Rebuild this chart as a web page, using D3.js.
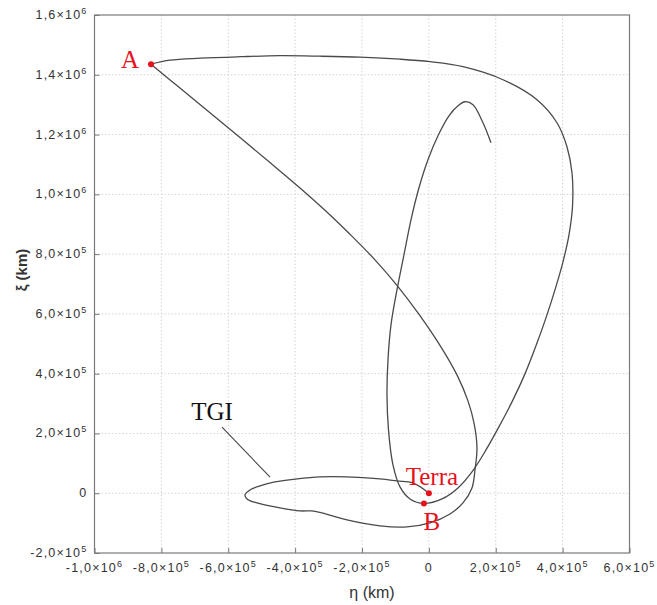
<!DOCTYPE html>
<html>
<head>
<meta charset="utf-8">
<script src="https://cdn.jsdelivr.net/npm/d3@7"></script>
<style>
  body { margin: 0; background: #fff; }
  svg { display: block; }
</style>
</head>
<body>
<div id="chart"></div>
<script>
// Trajectory in the rotating frame: eta (km) vs xi (km)

// Axis ticks
const etaTicks = [-1.0e6, -8.0e5, -6.0e5, -4.0e5, -2.0e5, 0, 2.0e5, 4.0e5, 6.0e5];
const xiTicks = [-2.0e5, 0, 2.0e5, 4.0e5, 6.0e5, 8.0e5, 1.0e6, 1.2e6, 1.4e6, 1.6e6];

// Path, in time order [eta, xi] (km)
// Leg 1: leaves Terra, TGI loop, then climbs to A
const outboundLeg = [
  [0, 0], [-47500, 34500], [-95400, 41200], [-146200, 47900], [-245000, 54600],
  [-325700, 54600], [-394500, 47900], [-460300, 37800], [-505100, 24400],
  [-535000, 11000], [-550000, -5700], [-544000, -19100], [-514100, -32500],
  [-445300, -49200], [-385500, -59200], [-349600, -59200], [-325700, -64300],
  [-244900, -89400], [-146200, -109500], [-65500, -112800], [3300, -99400],
  [63100, -69300], [102000, -32500], [128900, 17700], [137900, 78000],
  [143900, 151600], [134900, 235300], [116900, 309000], [84000, 396000],
  [33200, 494700], [-32600, 603500], [-95400, 695600], [-161200, 780900],
  [-236000, 866300], [-310700, 946600], [-385500, 1021300], [-475200, 1106300],
  [-564900, 1190000], [-654700, 1273000], [-744400, 1355700], [-831100, 1435300]
];
// Leg 2: from A along the top, outer arc down past B, inner loop up to the end
const returnLeg = [
  [-831100, 1435300], [-774300, 1448700], [-684600, 1455400], [-564900, 1460400],
  [-445300, 1463800], [-325700, 1462100], [-206100, 1458800], [-86400, 1452100],
  [3300, 1443700], [102000, 1426900], [221600, 1383400], [323300, 1316500],
  [383100, 1239500], [413000, 1159200], [428000, 1072100], [429500, 958300],
  [419000, 864600], [401100, 774200], [377100, 680500], [350200, 586800],
  [320300, 493100], [287400, 399300], [251500, 312300], [212600, 228600],
  [170800, 144900], [128900, 71300], [87000, 17700], [39200, -19100],
  [-14700, -34100], [-56500, -19100], [-86400, 21100], [-107400, 94700],
  [-120800, 211900], [-125300, 329000], [-122300, 446200], [-113300, 563400],
  [-95400, 680500], [-74500, 797700], [-53500, 914800], [-29600, 1021900],
  [-2700, 1115700], [27200, 1196000], [60100, 1262900], [87000, 1296400],
  [108000, 1309800], [131900, 1299800], [161800, 1239500], [185700, 1172600]
];

// Marked points
const markerNames = ["A", "Terra", "B"];
const markerEta = [-831100, 0, -14700];
const markerXi = [1435300, 0, -34100];

const W = 657, H = 605;
const margin = { top: 15, right: 27.5, bottom: 52, left: 94.5 };
const width = W - margin.left - margin.right;
const height = H - margin.top - margin.bottom;

const svg = d3.select("#chart").append("svg")
  .attr("width", W).attr("height", H);

const g = svg.append("g")
  .attr("transform", `translate(${margin.left},${margin.top})`);

const x = d3.scaleLinear().domain([-1.0e6, 6.0e5]).range([0, width]);
const y = d3.scaleLinear().domain([-2.0e5, 1.6e6]).range([height, 0]);

// Tick label "m,m×10^e"
function sciLabel(sel, v) {
  if (v === 0) { sel.text("0"); return; }
  const e = Math.floor(Math.log10(Math.abs(v)) + 1e-9);
  const m = (v / Math.pow(10, e)).toFixed(1).replace(".", ",");
  sel.append("tspan").text(m + "×10");
  sel.append("tspan").attr("dy", -5).style("font-size", "9px").text(e);
}

// Grid (dotted)
g.append("g").selectAll("line")
  .data(etaTicks.slice(1, -1)).join("line")
  .attr("x1", d => x(d)).attr("x2", d => x(d))
  .attr("y1", 0).attr("y2", height)
  .attr("stroke", "#d4d4d4").attr("stroke-dasharray", "1.5,2");
g.append("g").selectAll("line")
  .data(xiTicks.slice(1, -1)).join("line")
  .attr("x1", 0).attr("x2", width)
  .attr("y1", d => y(d)).attr("y2", d => y(d))
  .attr("stroke", "#d4d4d4").attr("stroke-dasharray", "1.5,2");

// Axes with inward ticks
const xAxis = g.append("g")
  .attr("transform", `translate(0,${height})`)
  .call(d3.axisBottom(x).tickValues(etaTicks).tickSizeInner(-5).tickSizeOuter(0).tickFormat(""));
const yAxis = g.append("g")
  .call(d3.axisLeft(y).tickValues(xiTicks).tickSizeInner(-5).tickSizeOuter(0).tickFormat(""));
[xAxis, yAxis].forEach(a => {
  a.select(".domain").remove();
  a.selectAll(".tick line").attr("stroke", "#777");
});

// Frame
g.append("rect")
  .attr("width", width).attr("height", height)
  .attr("fill", "none").attr("stroke", "#7a7a7a").attr("stroke-width", 1.2);

// Tick labels
const tickFont = sel => sel
  .style("font-family", "'Liberation Sans', Arial, sans-serif")
  .style("font-size", "12.5px").style("letter-spacing", "1.2px")
  .attr("fill", "#333");

g.append("g").selectAll("text")
  .data(etaTicks).join("text")
  .attr("x", d => x(d)).attr("y", height + 19)
  .attr("text-anchor", "middle")
  .call(tickFont)
  .each(function (d) { sciLabel(d3.select(this), d); });

g.append("g").selectAll("text")
  .data(xiTicks).join("text")
  .attr("x", -7).attr("y", d => y(d) + 4)
  .attr("text-anchor", "end")
  .call(tickFont)
  .each(function (d) { sciLabel(d3.select(this), d); });

// Axis titles
g.append("text")
  .attr("x", width / 2 + 10).attr("y", height + 45)
  .attr("text-anchor", "middle")
  .style("font-family", "'Liberation Sans', Arial, sans-serif")
  .style("font-size", "16px").attr("fill", "#333")
  .text("η (km)");

g.append("text")
  .attr("transform", "rotate(-90)")
  .attr("x", -255).attr("y", -68)
  .attr("text-anchor", "middle")
  .style("font-family", "'Liberation Sans', Arial, sans-serif")
  .style("font-size", "15px").style("font-weight", "bold").attr("fill", "#333")
  .text("ξ (km)");

// Trajectory (two legs, joined at A)
const line = d3.line()
  .x(d => x(d[0])).y(d => y(d[1]))
  .curve(d3.curveCatmullRom.alpha(0.5));

g.selectAll("path.leg")
  .data([outboundLeg, returnLeg])
  .join("path")
  .attr("class", "leg")
  .attr("d", line)
  .attr("fill", "none")
  .attr("stroke", "#4a4a4a")
  .attr("stroke-width", 1.3)
  .attr("stroke-linejoin", "round");

// TGI annotation
const tgiAt = [-475000, 47000];
g.append("line")
  .attr("x1", x(tgiAt[0]) - 48).attr("y1", y(tgiAt[1]) - 52)
  .attr("x2", x(tgiAt[0])).attr("y2", y(tgiAt[1]) - 2)
  .attr("stroke", "#444").attr("stroke-width", 1.1);
g.append("text")
  .attr("x", x(tgiAt[0]) - 58).attr("y", y(tgiAt[1]) - 59)
  .attr("text-anchor", "middle")
  .style("font-family", "'Liberation Serif', serif")
  .style("font-size", "25px").attr("fill", "#111")
  .text("TGI");

// Red markers and labels
const labelOffset = { A: [-21, 4], Terra: [3, -8], B: [8, 27] };
markerNames.forEach((name, i) => {
  const px = x(markerEta[i]), py = y(markerXi[i]);
  g.append("circle")
    .attr("cx", px).attr("cy", py).attr("r", 3)
    .attr("fill", "#e8101c");
  g.append("text")
    .attr("x", px + labelOffset[name][0]).attr("y", py + labelOffset[name][1])
    .attr("text-anchor", "middle")
    .style("font-family", "'Liberation Serif', serif")
    .style("font-size", "25px").attr("fill", "#e8101c")
    .text(name);
});
</script>
</body>
</html>
